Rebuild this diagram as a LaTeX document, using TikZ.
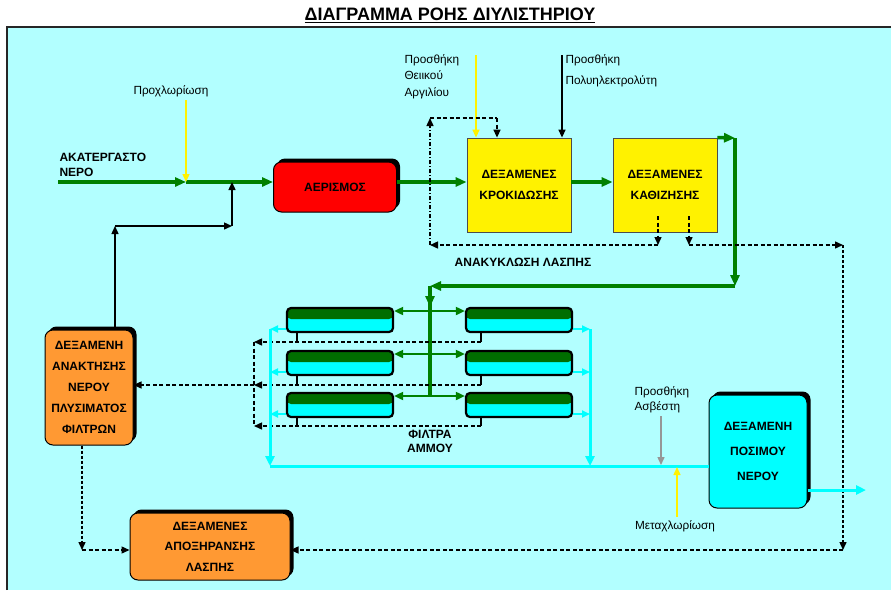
\documentclass[tikz,border=0pt]{standalone}
\usepackage{fontspec}
\setmainfont{Liberation Sans}
\usetikzlibrary{arrows.meta,shadows}

\definecolor{bgcyan}{RGB}{178,255,255}
\definecolor{flowgreen}{RGB}{0,128,0}
\definecolor{filtgreen}{RGB}{0,110,0}
\definecolor{aqua}{RGB}{0,255,255}
\definecolor{sludgeorange}{RGB}{255,153,51}
\definecolor{limegray}{RGB}{150,150,150}

\begin{document}
\begin{tikzpicture}[x=1pt,y=-1pt,line join=miter,
  >={Triangle[length=8pt,width=7pt]},
  boxfont/.style={font=\fontsize{12}{21}\selectfont\bfseries},
  notefont/.style={font=\fontsize{11.8}{16.5}\selectfont},
  shadowbox/.style={draw=black,line width=1pt,rounded corners=8pt,align=center,inner sep=1pt,boxfont,
    drop shadow={shadow xshift=3.5pt,shadow yshift=3.5pt,fill=black,opacity=1}},
  tankbox/.style={draw=black!70,line width=0.8pt,fill=yellow,align=center,inner sep=1pt,boxfont,
    minimum width=104pt,minimum height=94pt},
  filterbox/.style={draw=black,line width=2.2pt,rounded corners=4pt,fill=aqua,inner sep=0pt,
    minimum width=106pt,minimum height=24pt,
    path picture={\fill[filtgreen] (path picture bounding box.north west) rectangle ([yshift=-11pt]path picture bounding box.north east);}},
  mainflow/.style={flowgreen,line width=3.5pt,-{Triangle[length=11pt,width=9pt]}},
  branchflow/.style={flowgreen,line width=1.8pt,-{Triangle[length=9pt,width=8pt]}},
  cleanflow/.style={aqua,line width=3pt,-{Triangle[length=10pt,width=9pt]}},
  cleanbranch/.style={aqua,line width=1.8pt,-{Triangle[length=8pt,width=7pt]}},
  returnline/.style={black,line width=1.4pt,->},
  sludge/.style={black,line width=1.4pt,dash pattern=on 4pt off 2.5pt,->},
  stem/.style={black,line width=1.6pt},
  dosing/.style={line width=1.4pt,->}]
\useasboundingbox (0,0) rectangle (891,590);
\fill[bgcyan] (7,27) rectangle (891,590);
\draw[line width=1.5pt,black!85] (7,590) -- (7,27) -- (891,27);
\node[font=\fontsize{18}{20}\selectfont\bfseries] (title) at (450,15) {\underline{ΔΙΑΓΡΑΜΜΑ ΡΟΗΣ ΔΙΥΛΙΣΤΗΡΙΟΥ}};

% tanks
\node[shadowbox,fill=red,minimum width=123pt,minimum height=50pt] (aer) at (335,187) {ΑΕΡΙΣΜΟΣ};
\node[tankbox] (kroki) at (519,185) {ΔΕΞΑΜΕΝΕΣ\\ΚΡΟΚΙΔΩΣΗΣ};
\node[tankbox] (kath) at (665,185) {ΔΕΞΑΜΕΝΕΣ\\ΚΑΘΙΖΗΣΗΣ};
\node[shadowbox,fill=sludgeorange,minimum width=88pt,minimum height=115pt] (anakt) at (89,387.5)
  {ΔΕΞΑΜΕΝΗ\\ΑΝΑΚΤΗΣΗΣ\\ΝΕΡΟΥ\\ΠΛΥΣΙΜΑΤΟΣ\\ΦΙΛΤΡΩΝ};
\node[shadowbox,fill=aqua,minimum width=98pt,minimum height=113pt,font=\fontsize{12}{25}\selectfont\bfseries] (posimo) at (758,451.5)
  {ΔΕΞΑΜΕΝΗ\\ΠΟΣΙΜΟΥ\\ΝΕΡΟΥ};
\node[shadowbox,fill=sludgeorange,minimum width=160pt,minimum height=67pt,font=\fontsize{12}{20.5}\selectfont\bfseries] (apox) at (210,546.5)
  {ΔΕΞΑΜΕΝΕΣ\\ΑΠΟΞΗΡΑΝΣΗΣ\\ΛΑΣΠΗΣ};
\foreach \r/\y in {1/320,2/363,3/405}{
  \node[filterbox] (fl\r) at (340,\y) {};
  \node[filterbox] (fr\r) at (519,\y) {};
}

% labels
\node[boxfont,align=left,anchor=west,font=\fontsize{12}{14.5}\selectfont\bfseries] (raw) at (56,165) {ΑΚΑΤΕΡΓΑΣΤΟ\\ΝΕΡΟ};
\node[notefont] (prechl) at (171,91) {Προχλωρίωση};
\node[notefont,align=left,anchor=west] (alum) at (401,76.5) {Προσθήκη\\Θειικού\\Αργιλίου};
\node[notefont,align=left,anchor=west,font=\fontsize{11.8}{21}\selectfont] (poly) at (562,70.5) {Προσθήκη\\Πολυηλεκτρολύτη};
\node[boxfont] (recyc) at (523,262) {ΑΝΑΚΥΚΛΩΣΗ ΛΑΣΠΗΣ};
\node[boxfont,align=center,font=\fontsize{12}{13.5}\selectfont\bfseries] (sand) at (430,441.5) {ΦΙΛΤΡΑ\\ΑΜΜΟΥ};
\node[notefont,align=left,anchor=west,font=\fontsize{11.8}{14.5}\selectfont] (lime) at (631,400) {Προσθήκη\\Ασβέστη};
\node[notefont] (postchl) at (675,526) {Μεταχλωρίωση};

% main line
\coordinate (rawin) at (58,182);
\coordinate (chlpt) at (186,182);
\coordinate (mixpt) at (232,182);
\draw[mainflow] (rawin) -- (chlpt);
\draw[mainflow] (chlpt) -- (aer.west |- chlpt);
\draw[mainflow] (aer.east |- chlpt) -- (kroki.west |- chlpt);
\draw[mainflow] (kroki.east |- chlpt) -- (kath.west |- chlpt);
\coordinate (outtop) at (735,138);
\coordinate (outbot) at (735,286);
\coordinate (trunktop) at (430,286);
\coordinate (trunkmid) at (430,307);
\coordinate (trunkbot) at (430,396);
\draw[mainflow] (kath.north east) -- (outtop);
\draw[mainflow] (outtop) -- (outbot);
\draw[mainflow] (outbot) -- (trunktop);
\draw[flowgreen,line width=3.5pt] (trunktop) -- (trunkbot);
\draw[mainflow] (trunktop) -- (trunkmid);
\foreach \r/\y in {1/311,2/354,3/396}{
  \coordinate (br\r) at (430,\y);
  \draw[branchflow] (br\r) -- (br\r -| fl\r.east);
  \draw[branchflow] (br\r) -- (br\r -| fr\r.west);
}

% dosing
\draw[dosing,yellow] (prechl.south -| chlpt) -- (chlpt);
\coordinate (alumtop) at (476,55);
\coordinate (polytop) at (562,55);
\draw[dosing,yellow] (alumtop) -- (alumtop |- kroki.north);
\draw[dosing,black] (polytop) -- (polytop |- kroki.north);

% sludge recycle
\coordinate (sl1) at (658,216);
\coordinate (sl1b) at (658,245);
\coordinate (sl2) at (689,216);
\coordinate (sl2b) at (689,245);
\coordinate (rcl) at (430,245);
\coordinate (rcltop) at (430,118);
\coordinate (rcr) at (497,118);
\draw[sludge] (sl1) -- (sl1b);
\draw[sludge] (sl1b) -- (rcl);
\draw[black,line width=1.4pt,dash pattern=on 4pt off 2pt on 1pt off 2pt,->] (rcl) -- (rcltop);
\draw[sludge,-] (rcltop) -- (rcr);
\draw[sludge] (rcr) -- (rcr |- kroki.north);
\draw[sludge] (sl2) -- (sl2b);
\coordinate (rr) at (843,245);
\coordinate (rrb) at (843,550);
\draw[sludge] (sl2b) -- (rr);
\draw[sludge,dash pattern=on 3pt off 2pt] (rr) -- (rrb);
\draw[sludge] (rrb) -- (apox.east |- rrb);
\coordinate (ab) at (82,550);
\draw[sludge,dash pattern=on 3pt off 2pt] (anakt.south -| ab) -- (ab);
\draw[sludge] (ab) -- (apox.west |- ab);

% filter backwash
\foreach \r/\yd in {1/342,2/385,3/426}{
  \coordinate (wl\r) at (297,\yd);
  \coordinate (wr\r) at (481,\yd);
  \coordinate (wc\r) at (254,\yd);
  \draw[stem] (fl\r.south -| wl\r) -- (wl\r);
  \draw[stem] (fr\r.south -| wr\r) -- (wr\r);
  \draw[sludge] (wr\r) -- (wc\r);
}
\draw[sludge,-] (wc1) -- (wc3);
\draw[sludge] (wc2) -- (anakt.east |- wc2);
\coordinate (rt1) at (115,226);
\coordinate (rt2) at (232,226);
\draw[returnline] (anakt.north -| rt1) -- (rt1);
\draw[returnline] (rt1) -- (rt2);
\draw[returnline] (rt2) -- (mixpt);

% clean water
\foreach \r/\yc in {1/329,2/372,3/414}{
  \coordinate (cl\r) at (270,\yc);
  \coordinate (cr\r) at (590,\yc);
  \draw[cleanbranch] (fl\r.west |- cl\r) -- (cl\r);
  \draw[cleanbranch] (fr\r.east |- cr\r) -- (cr\r);
}
\coordinate (clb) at (270,466);
\coordinate (crb) at (590,466);
\draw[cleanflow] (cl1) -- (clb);
\draw[cleanflow] (cr1) -- (crb);
\draw[aqua,line width=3pt] (clb) -- (posimo.west |- clb);
\coordinate (potout) at (866,490);
\draw[cleanflow] (posimo.east |- potout) -- (potout);
\coordinate (limept) at (661,465);
\coordinate (postpt) at (677,467);
\draw[dosing,limegray] (lime.south -| limept) -- (limept);
\draw[dosing,yellow] (postchl.north -| postpt) -- (postpt);
\end{tikzpicture}
\end{document}
